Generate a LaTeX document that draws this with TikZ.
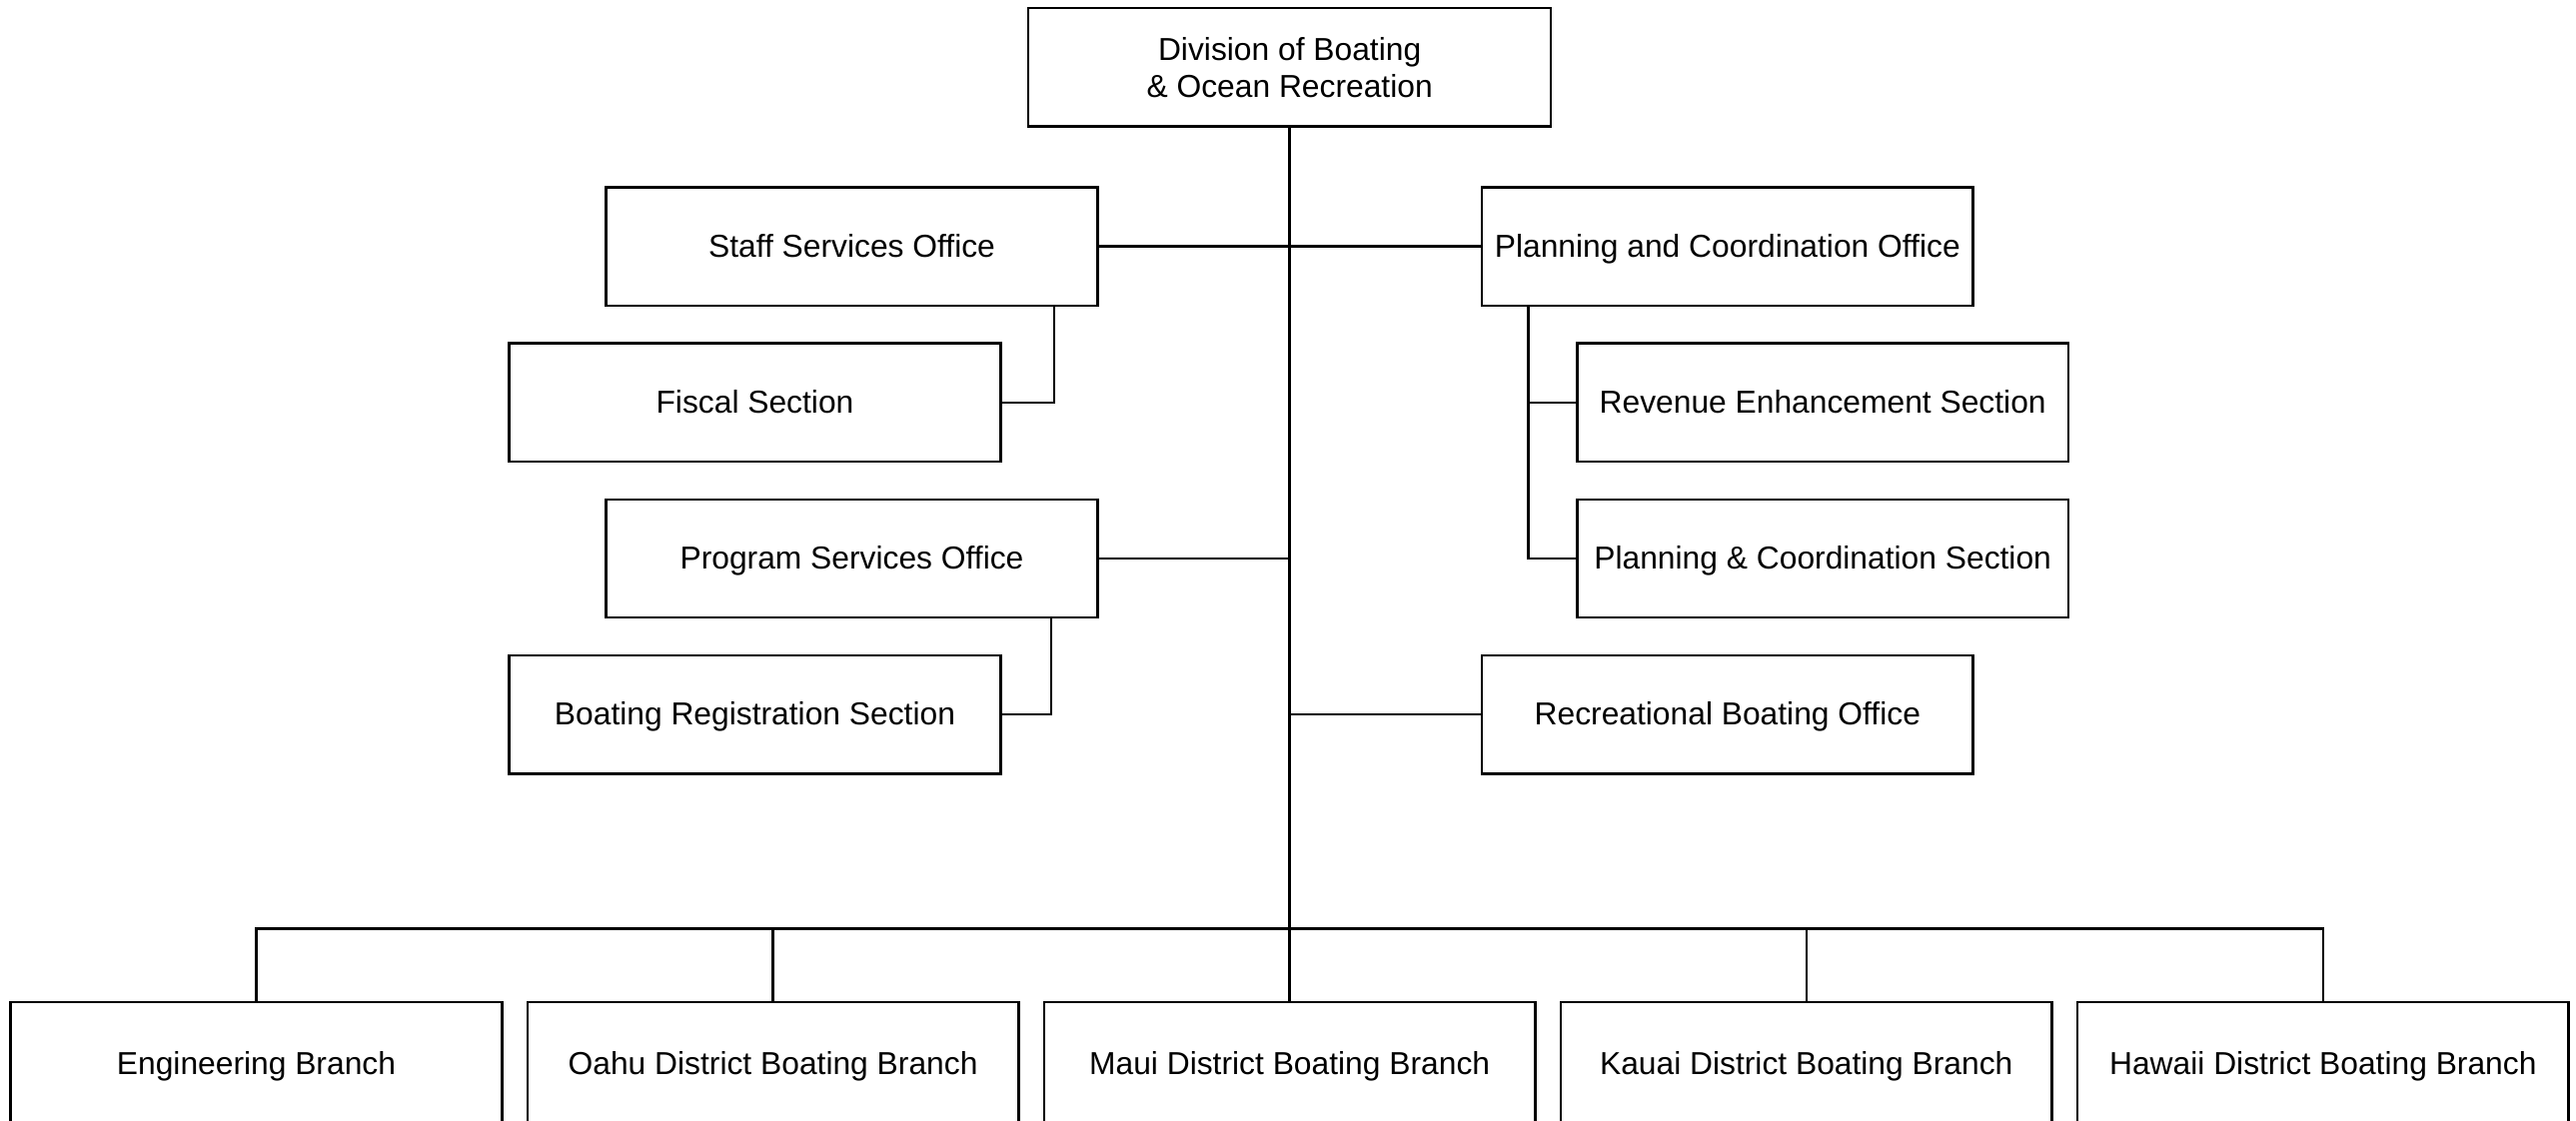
\documentclass[tikz,border=0pt]{standalone}
\usepackage{fontspec}
\setmainfont{Liberation Sans}
\usetikzlibrary{positioning, calc}
\definecolor{boxline}{HTML}{000000}
\tikzset{
  box/.style={rectangle, draw=boxline, line width=0.85pt, fill=white, align=center,
              minimum width=5.98cm, minimum height=1.44cm, inner sep=1pt,
              font=\fontsize{11}{13}\selectfont},
  unit/.style={box, text height=0.72em, text depth=0pt},
  head/.style={box, minimum width=6.36cm},
  branch/.style={unit, minimum height=1.52cm},
  link/.style={draw=boxline, line width=0.85pt},
}
\def\bspread{6.29}

\begin{document}
\begin{tikzpicture}

% Page frame, 1568 x 682 at 0.02cm per pixel; the bottom row runs off the lower edge
\path[fill=white, use as bounding box] (0,0) rectangle (31.36,-13.64);

% Head of division, trunk runs straight down x=15.70
\node[head] (dobor) at (15.70,-0.82) {Division of Boating\\\& Ocean Recreation};

% Offices and their sections
\node[unit] (staff)   at (10.37,-3.00) {Staff Services Office};
\node[unit] (fiscal)  at (9.19,-4.90)  {Fiscal Section};
\node[unit] (program) at (10.37,-6.80) {Program Services Office};
\node[unit] (boatreg) at (9.19,-8.70)  {Boating Registration Section};

\node[unit] (planoff) at (21.03,-3.00) {Planning and Coordination Office};
\node[unit] (revenue) at (22.19,-4.90) {Revenue Enhancement Section};
\node[unit] (plansec) at (22.19,-6.80) {Planning \& Coordination Section};
\node[unit] (recboat) at (21.03,-8.70) {Recreational Boating Office};

% Branches, evenly spread about the trunk
\node[branch] (maui)   at (15.70,-12.96)          {Maui District Boating Branch};
\node[branch] (oahu)   at (15.70-\bspread,-12.96)   {Oahu District Boating Branch};
\node[branch] (eng)    at (15.70-2*\bspread,-12.96) {Engineering Branch};
\node[branch] (kauai)  at (15.70+\bspread,-12.96)   {Kauai District Boating Branch};
\node[branch] (hawaii) at (15.70+2*\bspread,-12.96) {Hawaii District Boating Branch};

% Trunk and office links
\draw[link] (dobor.south) -- (maui.north);
\draw[link] (staff.east) -- (planoff.west);
\draw[link] (program.east) -- (program.east -| dobor.south);
\draw[link] (recboat.west) -- (recboat.west -| dobor.south);

% Section links hang off the near corner of each office
\draw[link] ($(staff.south east)+(-0.54,0)$) |- (fiscal.east);
\draw[link] ($(program.south east)+(-0.58,0)$) |- (boatreg.east);
\coordinate (pcspine) at ($(planoff.south west)+(0.58,0)$);
\draw[link] (pcspine) |- (plansec.west);
\draw[link] (pcspine |- revenue.west) -- (revenue.west);

% Branch bus
\coordinate (bus) at ($(maui.north)+(0,0.88)$);
\draw[link] (eng.north) |- (bus) -| (hawaii.north);
\foreach \b in {oahu, kauai} { \draw[link] (\b.north) -- (\b.north |- bus); }

\end{tikzpicture}
\end{document}
